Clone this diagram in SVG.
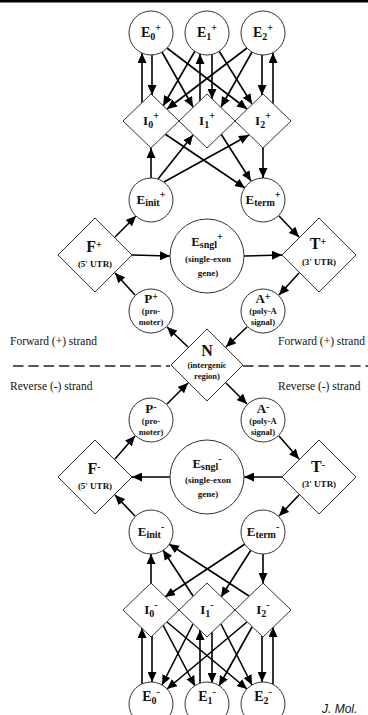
<svg xmlns="http://www.w3.org/2000/svg" width="368" height="715" viewBox="0 0 368 715">
<defs>
<marker id="ah" markerUnits="userSpaceOnUse" markerWidth="11" markerHeight="9" refX="10" refY="4.5" orient="auto"><path d="M0,0 L10,4.5 L0,9 z" fill="#000"/></marker>
<style>
.nd{fill:#fff;stroke:#333;stroke-width:1}
.cn{stroke:#000;stroke-width:1.6;fill:none;marker-end:url(#ah)}
.t{font-family:"Liberation Serif","Times New Roman",serif;font-weight:bold;fill:#111;text-anchor:middle}
.big{font-size:14px}
.bg2{font-size:16px}
.mid{font-size:13px}
.sm{font-size:9px}
.xs{font-size:8.5px}
.sub{font-size:10px}
.sup{font-size:10px}
.strand{font-family:"Liberation Serif","Times New Roman",serif;font-size:11.5px;fill:#111}
</style>
</defs>
<rect x="0" y="0" width="368" height="2.5" fill="#000"/>

<g id="connectors">
<!-- top E+ <-> I+ verticals -->
<line class="cn" x1="142" y1="103" x2="142" y2="53"/>
<line class="cn" x1="152" y1="55" x2="152" y2="95"/>
<line class="cn" x1="200" y1="101" x2="200" y2="54"/>
<line class="cn" x1="212" y1="54" x2="212" y2="99"/>
<line class="cn" x1="262" y1="55" x2="262" y2="95"/>
<line class="cn" x1="273" y1="104" x2="273" y2="53"/>
<!-- top diagonals E+ -> I+ -->
<line class="cn" x1="162" y1="52" x2="193" y2="107"/>
<line class="cn" x1="167" y1="48" x2="247" y2="109"/>
<line class="cn" x1="195" y1="51" x2="163" y2="106"/>
<line class="cn" x1="219" y1="51" x2="252" y2="104"/>
<line class="cn" x1="247" y1="48" x2="167" y2="109"/>
<line class="cn" x1="252" y1="52" x2="221" y2="107"/>
<!-- Einit+ -> I+, I+ -> Eterm+ -->
<line class="cn" x1="151" y1="178" x2="151" y2="148"/>
<line class="cn" x1="158" y1="179" x2="193" y2="135"/>
<line class="cn" x1="164" y1="182" x2="249" y2="135"/>
<line class="cn" x1="165" y1="134" x2="245" y2="188"/>
<line class="cn" x1="221" y1="134" x2="251" y2="181"/>
<line class="cn" x1="263" y1="148" x2="263" y2="178"/>
<!-- forward ring -->
<line class="cn" x1="115" y1="237" x2="136" y2="216"/>
<line class="cn" x1="132" y1="255" x2="170" y2="256"/>
<line class="cn" x1="244" y1="256" x2="282" y2="255"/>
<line class="cn" x1="279" y1="216" x2="299" y2="237"/>
<line class="cn" x1="299" y1="273" x2="279" y2="295"/>
<line class="cn" x1="247" y1="327" x2="226" y2="347"/>
<line class="cn" x1="188" y1="347" x2="167" y2="327"/>
<line class="cn" x1="135" y1="295" x2="115" y2="273"/>
<!-- reverse ring -->
<line class="cn" x1="226" y1="383" x2="247" y2="404"/>
<line class="cn" x1="167" y1="404" x2="188" y2="383"/>
<line class="cn" x1="279" y1="436" x2="299" y2="459"/>
<line class="cn" x1="282" y1="477" x2="244" y2="477"/>
<line class="cn" x1="170" y1="477" x2="132" y2="477"/>
<line class="cn" x1="115" y1="459" x2="135" y2="436"/>
<line class="cn" x1="299" y1="495" x2="279" y2="516"/>
<line class="cn" x1="135" y1="516" x2="115" y2="495"/>
<!-- I- -> Einit-, Eterm- -> I- -->
<line class="cn" x1="151" y1="583" x2="151" y2="554"/>
<line class="cn" x1="193" y1="596" x2="163" y2="550"/>
<line class="cn" x1="249" y1="596" x2="169" y2="544"/>
<line class="cn" x1="245" y1="544" x2="165" y2="597"/>
<line class="cn" x1="251" y1="550" x2="221" y2="597"/>
<line class="cn" x1="263" y1="554" x2="263" y2="583"/>
<!-- bottom I- <-> E- verticals -->
<line class="cn" x1="142" y1="684" x2="142" y2="628"/>
<line class="cn" x1="152" y1="636" x2="152" y2="682"/>
<line class="cn" x1="200" y1="683" x2="200" y2="630"/>
<line class="cn" x1="212" y1="632" x2="212" y2="683"/>
<line class="cn" x1="262" y1="636" x2="262" y2="682"/>
<line class="cn" x1="273" y1="684" x2="273" y2="627"/>
<!-- bottom diagonals I- -> E- -->
<line class="cn" x1="193" y1="624" x2="162" y2="685"/>
<line class="cn" x1="247" y1="622" x2="167" y2="689"/>
<line class="cn" x1="163" y1="625" x2="195" y2="686"/>
<line class="cn" x1="252" y1="627" x2="219" y2="686"/>
<line class="cn" x1="167" y1="622" x2="247" y2="689"/>
<line class="cn" x1="221" y1="624" x2="252" y2="685"/>
</g>

<g id="e0p"><circle class="nd" cx="151" cy="33" r="22"/><text class="t big" x="151" y="37">E<tspan class="sub" dy="3">0</tspan><tspan class="sup" dy="-9">+</tspan></text></g>
<g id="e1p"><circle class="nd" cx="207" cy="33" r="22"/><text class="t big" x="207" y="37">E<tspan class="sub" dy="3">1</tspan><tspan class="sup" dy="-9">+</tspan></text></g>
<g id="e2p"><circle class="nd" cx="263" cy="33" r="22"/><text class="t big" x="263" y="37">E<tspan class="sub" dy="3">2</tspan><tspan class="sup" dy="-9">+</tspan></text></g>

<g id="i0p"><path class="nd" d="M151,94 L179,121 L151,148 L123,121 Z"/><text class="t mid" x="151" y="125">I<tspan class="sub" dy="3">0</tspan><tspan class="sup" dy="-9">+</tspan></text></g>
<g id="i1p"><path class="nd" d="M207,94 L235,121 L207,148 L179,121 Z"/><text class="t mid" x="207" y="125">I<tspan class="sub" dy="3">1</tspan><tspan class="sup" dy="-9">+</tspan></text></g>
<g id="i2p"><path class="nd" d="M263,94 L291,121 L263,148 L235,121 Z"/><text class="t mid" x="263" y="125">I<tspan class="sub" dy="3">2</tspan><tspan class="sup" dy="-9">+</tspan></text></g>

<g id="einitp"><circle class="nd" cx="151" cy="200" r="22"/><text class="t mid" x="151" y="204">E<tspan class="sub" dy="2">init</tspan><tspan class="sup" dy="-8">+</tspan></text></g>
<g id="etermp"><circle class="nd" cx="263" cy="200" r="22"/><text class="t mid" x="263" y="204">E<tspan class="sub" dy="2">term</tspan><tspan class="sup" dy="-8">+</tspan></text></g>

<g id="fp"><path class="nd" d="M95,218 L132,255 L95,292 L58,255 Z"/><text class="t bg2" x="94" y="252">F<tspan class="sup" font-size="12" dy="-4">+</tspan></text><text class="t sm" x="95" y="267">(5' UTR)</text></g>
<g id="esnglp"><circle class="nd" cx="207" cy="256" r="37"/><text class="t mid" x="207" y="246">E<tspan class="sub" dy="2">sngl</tspan><tspan class="sup" dy="-8">+</tspan></text><text class="t sm" x="208" y="262">(single-exon</text><text class="t sm" x="208" y="276">gene)</text></g>
<g id="tp"><path class="nd" d="M319,218 L356,255 L319,292 L282,255 Z"/><text class="t bg2" x="318" y="249">T<tspan class="sup" font-size="12" dy="-4">+</tspan></text><text class="t sm" x="319" y="265">(3' UTR)</text></g>

<g id="pp"><circle class="nd" cx="151" cy="311" r="22"/><text class="t mid" x="151" y="303">P<tspan class="sup" font-size="11" dy="-3">+</tspan></text><text class="t xs" x="151" y="314">(pro-</text><text class="t xs" x="151" y="325">moter)</text></g>
<g id="ap"><circle class="nd" cx="263" cy="311" r="22"/><text class="t mid" x="263" y="303">A<tspan class="sup" font-size="11" dy="-3">+</tspan></text><text class="t xs" x="263" y="314">(poly-A</text><text class="t xs" x="263" y="325">signal)</text></g>

<g id="n"><path class="nd" d="M207,329 L243,365 L207,401 L171,365 Z"/><text class="t bg2" x="207" y="356">N</text><text class="t xs" x="207" y="368">(intergenic</text><text class="t xs" x="207" y="379">region)</text></g>

<g id="strands">
<line x1="13" y1="366" x2="170" y2="366" stroke="#222" stroke-width="1.5" stroke-dasharray="10.5 4.8"/>
<line x1="243" y1="366" x2="368" y2="366" stroke="#222" stroke-width="1.5" stroke-dasharray="10.5 4.8"/>
<text class="strand" x="10" y="345">Forward (+) strand</text>
<text class="strand" x="278" y="345">Forward (+) strand</text>
<text class="strand" x="10" y="390">Reverse (-) strand</text>
<text class="strand" x="278" y="390">Reverse (-) strand</text>
</g>

<g id="pm"><circle class="nd" cx="151" cy="420" r="22"/><text class="t mid" x="151" y="413">P<tspan class="sup" font-size="11" dy="-3">-</tspan></text><text class="t xs" x="151" y="424">(pro-</text><text class="t xs" x="151" y="435">moter)</text></g>
<g id="am"><circle class="nd" cx="263" cy="420" r="22"/><text class="t mid" x="263" y="413">A<tspan class="sup" font-size="11" dy="-3">-</tspan></text><text class="t xs" x="263" y="424">(poly-A</text><text class="t xs" x="263" y="435">signal)</text></g>

<g id="fm"><path class="nd" d="M95,440 L132,477 L95,514 L58,477 Z"/><text class="t bg2" x="94" y="474">F<tspan class="sup" font-size="12" dy="-4">-</tspan></text><text class="t sm" x="95" y="489">(5' UTR)</text></g>
<g id="esnglm"><circle class="nd" cx="207" cy="477" r="37"/><text class="t mid" x="207" y="468">E<tspan class="sub" dy="2">sngl</tspan><tspan class="sup" dy="-8">-</tspan></text><text class="t sm" x="208" y="483">(single-exon</text><text class="t sm" x="208" y="497">gene)</text></g>
<g id="tm"><path class="nd" d="M319,440 L356,477 L319,514 L282,477 Z"/><text class="t bg2" x="318" y="472">T<tspan class="sup" font-size="12" dy="-4">-</tspan></text><text class="t sm" x="319" y="487">(3' UTR)</text></g>

<g id="einitm"><circle class="nd" cx="151" cy="532" r="22"/><text class="t mid" x="151" y="536">E<tspan class="sub" dy="2">init</tspan><tspan class="sup" dy="-8">-</tspan></text></g>
<g id="etermm"><circle class="nd" cx="263" cy="532" r="22"/><text class="t mid" x="263" y="536">E<tspan class="sub" dy="2">term</tspan><tspan class="sup" dy="-8">-</tspan></text></g>

<g id="i0m"><path class="nd" d="M151,583 L179,610 L151,637 L123,610 Z"/><text class="t mid" x="151" y="614">I<tspan class="sub" dy="3">0</tspan><tspan class="sup" dy="-9">-</tspan></text></g>
<g id="i1m"><path class="nd" d="M207,583 L235,610 L207,637 L179,610 Z"/><text class="t mid" x="207" y="614">I<tspan class="sub" dy="3">1</tspan><tspan class="sup" dy="-9">-</tspan></text></g>
<g id="i2m"><path class="nd" d="M263,583 L291,610 L263,637 L235,610 Z"/><text class="t mid" x="263" y="614">I<tspan class="sub" dy="3">2</tspan><tspan class="sup" dy="-9">-</tspan></text></g>

<g id="e0m"><circle class="nd" cx="151" cy="704" r="22"/><text class="t big" x="151" y="701">E<tspan class="sub" dy="3">0</tspan><tspan class="sup" dy="-9">-</tspan></text></g>
<g id="e1m"><circle class="nd" cx="207" cy="704" r="22"/><text class="t big" x="207" y="701">E<tspan class="sub" dy="3">1</tspan><tspan class="sup" dy="-9">-</tspan></text></g>
<g id="e2m"><circle class="nd" cx="263" cy="704" r="22"/><text class="t big" x="263" y="701">E<tspan class="sub" dy="3">2</tspan><tspan class="sup" dy="-9">-</tspan></text></g>

<text x="322" y="713" font-family="Liberation Sans, Arial, sans-serif" font-style="italic" font-size="12" fill="#111">J. Mol.</text>
</svg>
